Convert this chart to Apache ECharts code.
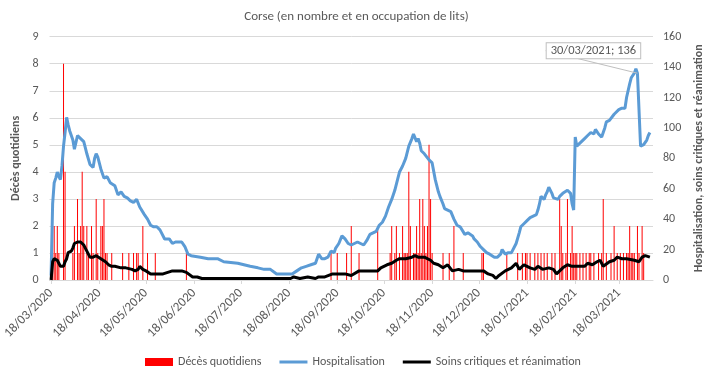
<!DOCTYPE html>
<html><head><meta charset="utf-8">
<script src="https://cdn.jsdelivr.net/npm/echarts@6/dist/echarts.min.js"></script>
<style>html,body{margin:0;padding:0;background:#fff}#c{width:713px;height:377px}</style>
</head><body><div id="c"></div>
<script>
const title = 'Corse (en nombre et en occupation de lits)';
const startDate = '18/03/2020';
const tickLabels = ['18/03/2020','18/04/2020','18/05/2020','18/06/2020','18/07/2020','18/08/2020','18/09/2020','18/10/2020','18/11/2020','18/12/2020','18/01/2021','18/02/2021','18/03/2021'];
// days counted from 18/03/2020
const hospDay = [0,1,2,3,4,5,6,7,8,9,10,11,12,13,14,15,16,17,18,19,20,21,22,23,25,27,28,29,30,32,34,36,37,38,41,43,45,47,49,51,53,55,57,60,62,64,66,68,70,71,73,76,78,80,84,86,88,90,96,101,107,111,120,124,128,133,137,141,145,150,155,158,161,164,167,170,172,174,176,178,180,182,183,185,187,189,191,193,195,197,199,201,203,205,207,209,211,213,215,217,219,221,223,224,226,228,230,232,233,234,235,236,237,238,240,241,243,245,247,249,250,252,253,255,257,259,261,263,264,266,268,269,271,272,274,276,278,280,282,283,285,287,289,290,291,292,294,296,297,299,301,302,304,306,308,310,312,313,314,315,316,317,318,319,320,321,322,323,324,326,327,329,330,332,333,334,335,336,337,338,339,341,343,345,347,348,349,350,351,352,354,355,356,357,359,360,362,363,365,367,368,369,370,372,373,375,376,377,378,379,380,381,382,383,384,385];
const hospValue = [3,50,64,67,71,68,66,75,88,97,107,102,98,97,92,86,87,95,96,93,92,91,87,83,76,74,80,83,81,73,67,68,69,64,62,56,58,55,54,52,51,53,48,43,40,36,35,35,33,31,27,27,24,25,25,22,17,16,15,14,14,12,11,10,9,8,7,7,4,4,4,6,8,9,10,11,17,14,14,15,19,18,21,24,29,27,24,23,24,25,24,23,26,30,31,32,36,38,42,48,53,59,67,71,75,80,88,93,96,95,91,93,90,85,83,82,79,77,66,58,55,50,47,46,45,40,36,35,34,30,31,30,29,27,25,22,20,18,17,16,15,15,17,20,19,17,18,18,19,24,31,35,37,39,41,42,43,46,50,55,56,53,56,58,61,60,57,54,54,53,55,57,58,59,58,57,50,46,94,88,87,91,93,95,97,97,96,99,98,96,94,97,100,104,105,106,109,110,112,113,112,113,120,129,133,136,139,136,137,88,87,89,90,92,95,97];
const reaDay = [0,1,2,3,4,5,6,8,9,10,11,13,14,15,17,19,20,21,22,23,24,25,27,28,29,30,32,33,35,37,39,41,45,48,52,54,56,57,59,61,62,64,68,72,75,78,84,87,88,91,94,97,154,156,160,165,170,172,176,181,185,189,193,198,204,210,212,216,219,222,224,228,232,234,236,240,244,246,249,252,255,258,262,265,278,281,284,286,288,292,296,299,301,304,308,311,313,316,320,323,325,329,332,335,339,343,345,348,351,353,355,359,362,364,367,370,375,378,380,382,385];
const reaValue = [0,12,14,14,13,11,9,9,12,14,18,19,21,24,25,25,24,23,21,19,17,15,15,16,16,15,14,13,12,10,9,9,8,8,7,6,7,9,7,6,5,4,4,4,5,6,6,5,4,2,2,1,1,2,1,2,1,2,2,4,4,4,3,6,6,6,8,10,11,13,14,14,15,16,15,15,13,11,10,8,10,6,7,6,6,4,3,1,3,6,8,11,7,10,8,7,9,7,8,7,4,8,10,9,9,9,11,10,12,13,9,12,13,15,14,14,13,12,15,16,15];
const deathDay = [1,2,3,4,5,8,9,14,15,17,18,19,20,21,23,24,26,27,29,30,32,33,34,35,36,39,46,50,53,55,56,59,62,67,87,180,184,190,193,198,210,218,219,221,222,224,226,227,228,229,230,231,233,234,235,236,237,238,239,240,241,242,243,244,245,252,256,259,265,277,278,293,300,303,305,306,308,311,313,315,317,319,322,324,327,328,329,331,332,334,335,336,337,338,340,342,344,346,347,349,352,354,355,357,360,362,364,366,368,370,371,372,373,374,375,377,378,380,381];
const deathValue = [1,2,1,2,1,8,4,1,2,3,1,2,4,2,2,1,2,1,3,1,2,2,3,1,1,1,1,1,1,1,1,2,1,1,1,1,1,1,2,1,2,1,2,1,2,1,2,1,1,1,4,2,1,1,2,1,3,1,3,2,1,2,5,3,1,1,1,2,1,1,1,1,1,1,1,1,1,1,1,1,1,1,1,1,3,2,1,1,3,1,2,1,1,1,1,1,1,1,1,1,1,1,3,1,1,2,1,1,1,1,1,2,1,1,1,2,1,2,1];
const annotatedDay = 377;
const annotatedText = '30/03/2021; 136';

const base = Date.UTC(2020, 2, 18);
function dayOf(lbl){ const p = lbl.split('/').map(Number); return Math.round((Date.UTC(p[2], p[1]-1, p[0]) - base) / 864e5); }
const tickDays = tickLabels.map(dayOf);
const FONT = 'Carlito, "Liberation Sans Narrow", "Open Sans", sans-serif';
const GREY = '#595959';
const LINE_ICON = 'path://M0,0h28v3h-28z';

const hospData = hospDay.map((d, i) => {
  if (d !== annotatedDay) return [d, hospValue[i]];
  return {
    value: [d, hospValue[i]],
    label: { show: true, formatter: annotatedText, color: GREY, fontSize: 12.5, fontFamily: FONT,
      backgroundColor: '#fff', borderColor: '#bfbfbf', borderWidth: 1, padding: [1, 4] },
    labelLine: { show: true, lineStyle: { color: '#bfbfbf', width: 1 } }
  };
});

const chart = echarts.init(document.getElementById('c'), null, { renderer: 'canvas' });
chart.setOption({
  animation: false,
  backgroundColor: '#fff',
  textStyle: { fontFamily: FONT },
  title: { text: title, left: 'center', top: 5, textStyle: { color: GREY, fontSize: 13, fontWeight: 'normal', fontFamily: FONT } },
  grid: { left: 48, right: 56, top: 36.7, bottom: 97, containLabel: false },
  legend: {
    top: 351, left: 140, itemWidth: 28, itemHeight: 8, itemGap: 18,
    textStyle: { color: GREY, fontSize: 12, fontFamily: FONT },
    data: [{ name: 'Décès quotidiens', icon: 'rect' },
           { name: 'Hospitalisation', icon: LINE_ICON },
           { name: 'Soins critiques et réanimation', icon: LINE_ICON }]
  },
  xAxis: {
    type: 'value', min: -1, max: 387,
    splitLine: { show: false },
    axisLine: { show: true, lineStyle: { color: '#d9d9d9' } },
    axisTick: { show: true, customValues: tickDays, length: 4, lineStyle: { color: '#d9d9d9' } },
    axisLabel: { customValues: tickDays, rotate: 45, margin: 11, color: GREY, fontSize: 13, fontFamily: FONT,
      formatter: v => tickLabels[tickDays.indexOf(Math.round(v))] || '' }
  },
  yAxis: [
    { type: 'value', min: 0, max: 9, interval: 1, position: 'left',
      name: 'Décès quotidiens', nameLocation: 'middle', nameGap: 22,
      nameTextStyle: { color: GREY, fontSize: 12, fontWeight: 'bold', fontFamily: FONT },
      axisLine: { show: false }, axisTick: { show: false },
      axisLabel: { color: GREY, fontSize: 12, margin: 11, fontFamily: FONT },
      splitLine: { lineStyle: { color: '#d9d9d9' } } },
    { type: 'value', min: 0, max: 160, interval: 20, position: 'right',
      name: 'Hospitalisation, soins critiques et réanimation', nameLocation: 'middle', nameGap: 40,
      nameTextStyle: { color: GREY, fontSize: 12, fontWeight: 'bold', fontFamily: FONT },
      axisLine: { show: false }, axisTick: { show: false },
      axisLabel: { color: GREY, fontSize: 12, margin: 10, fontFamily: FONT },
      splitLine: { show: false } }
  ],
  series: [
    { name: 'Décès quotidiens', type: 'bar', yAxisIndex: 0, barWidth: 1,
      itemStyle: { color: '#ff0000' },
      data: deathDay.map((d, i) => [d, deathValue[i]]) },
    { name: 'Hospitalisation', type: 'line', yAxisIndex: 1, showSymbol: true, symbol: 'circle', symbolSize: 0,
      lineStyle: { color: '#5b9bd5', width: 3 }, itemStyle: { color: '#5b9bd5' },
      labelLayout: { dx: -44, dy: -10 },
      data: hospData, z: 3 },
    { name: 'Soins critiques et réanimation', type: 'line', yAxisIndex: 1, showSymbol: false, symbol: 'none',
      lineStyle: { color: '#000', width: 3 }, itemStyle: { color: '#000' },
      data: reaDay.map((d, i) => [d, reaValue[i]]), z: 4 }
  ]
});
</script></body></html>
